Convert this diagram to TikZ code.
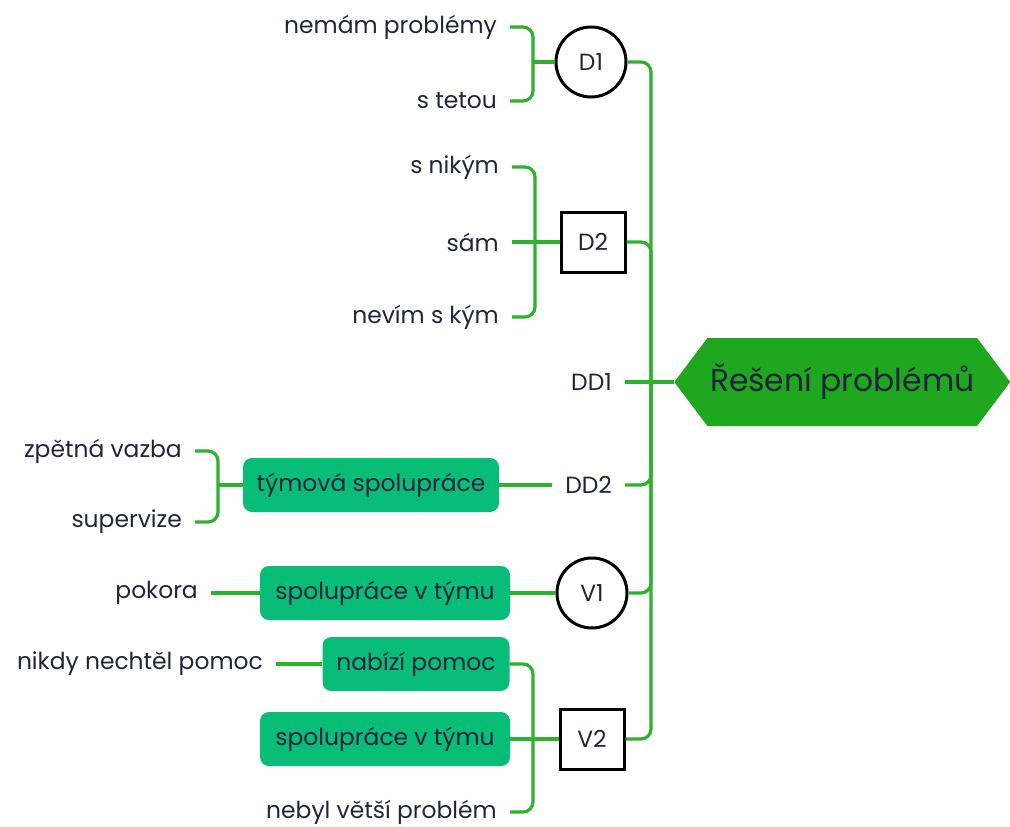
\documentclass[tikz,border=0pt]{standalone}
\usepackage{fontspec}
\setmainfont{Poppins}
\usetikzlibrary{shapes.symbols,shapes.geometric}
\definecolor{ln}{HTML}{2DB22D}
\definecolor{rootc}{HTML}{1FA81F}
\definecolor{boxc}{HTML}{08BD78}
\definecolor{txt}{HTML}{23233F}
\newcommand{\lf}{\fontsize{23.4}{26}\selectfont}
\tikzset{
  leaf/.style={font=\lf, text=txt, inner xsep=13pt, inner ysep=2pt},
  gbox/.style={fill=boxc, rounded corners=9pt, text=txt, font=\lf, minimum height=54pt, inner sep=0pt},
  circ/.style={circle, draw=black, line width=3pt, minimum size=70pt, inner sep=0pt, text=txt, font=\lf},
  sqr/.style={draw=black, line width=3pt, minimum width=64pt, minimum height=60pt, inner sep=0pt, text=txt, font=\lf},
  conn/.style={draw=ln, line width=3.2pt, rounded corners=10pt},
  rootnode/.style={shape=signal, signal to=west and east, signal pointer angle=106, fill=rootc, minimum width=336pt, minimum height=88pt, inner sep=0pt, text=txt, font=\fontsize{31.4}{34}\selectfont}
}
\begin{document}
\begin{tikzpicture}[x=1pt,y=-1pt]
\useasboundingbox (0,0) rectangle (1010,827);
% root
\node[rootnode, anchor=west] (root) at (674,382) {Řešení problémů};
% first level
\node[circ] (D1) at (591,62) {D1};
\node[sqr] (D2) at (593,242) {D2};
\node[leaf, anchor=east] (DD1) at (625,382) {DD1};
\node[leaf, anchor=east] (DD2) at (625,485) {DD2};
\node[circ] (V1) at (592,593) {V1};
\node[sqr] (V2) at (592,739) {V2};
% D1 children
\node[leaf, anchor=east] (a1) at (510,27) {nemám problémy};
\node[leaf, anchor=east] (a2) at (510,101) {s tetou};
% D2 children
\node[leaf, anchor=east] (b1) at (512,167) {s nikým};
\node[leaf, anchor=east] (b2) at (512,242) {sám};
\node[leaf, anchor=east] (b3) at (512,317) {nevím s kým};
% DD2 child
\node[gbox, minimum width=256pt] (tym) at (371,485) {týmová spolupráce};
\node[leaf, anchor=east] (c1) at (195,451) {zpětná vazba};
\node[leaf, anchor=east] (c2) at (195,522) {supervize};
% V1 children
\node[gbox, minimum width=250pt] (s1) at (385,593) {spolupráce v týmu};
\node[leaf, anchor=east] (pok) at (211,593) {pokora};
% V2 children
\node[gbox, minimum width=187pt] (nab) at (416,664) {nabízí pomoc};
\node[leaf, anchor=east] (nik) at (276,664) {nikdy nechtěl pomoc};
\node[gbox, minimum width=250pt] (s2) at (385,739) {spolupráce v týmu};
\node[leaf, anchor=east] (neb) at (510,812) {nebyl větší problém};
% junctions
\coordinate (sp) at (651,382);
\coordinate (j1) at (533,62);
\coordinate (j2) at (535,242);
\coordinate (j3) at (218,485);
\coordinate (j4) at (533,739);
% connectors
\draw[conn] (root.west) -- (DD1.east);
\draw[conn] (sp) |- (D1.east);
\draw[conn] (sp) |- (D2.east);
\draw[conn] (sp) |- (DD2.east);
\draw[conn] (sp) |- (V1.east);
\draw[conn] (sp) |- (V2.east);
\draw[conn] (D1.west) -- (j1);
\draw[conn] (j1) |- (a1.east);
\draw[conn] (j1) |- (a2.east);
\draw[conn] (D2.west) -- (b2.east);
\draw[conn] (j2) |- (b1.east);
\draw[conn] (j2) |- (b3.east);
\draw[conn] (DD2.west) -- (tym.east);
\draw[conn] (tym.west) -- (j3);
\draw[conn] (j3) |- (c1.east);
\draw[conn] (j3) |- (c2.east);
\draw[conn] (V1.west) -- (s1.east);
\draw[conn] (s1.west) -- (pok.east);
\draw[conn] (V2.west) -- (s2.east);
\draw[conn] (j4) |- (nab.east);
\draw[conn] (j4) |- (neb.east);
\draw[conn] (nab.west) -- (nik.east);
\end{tikzpicture}
\end{document}
